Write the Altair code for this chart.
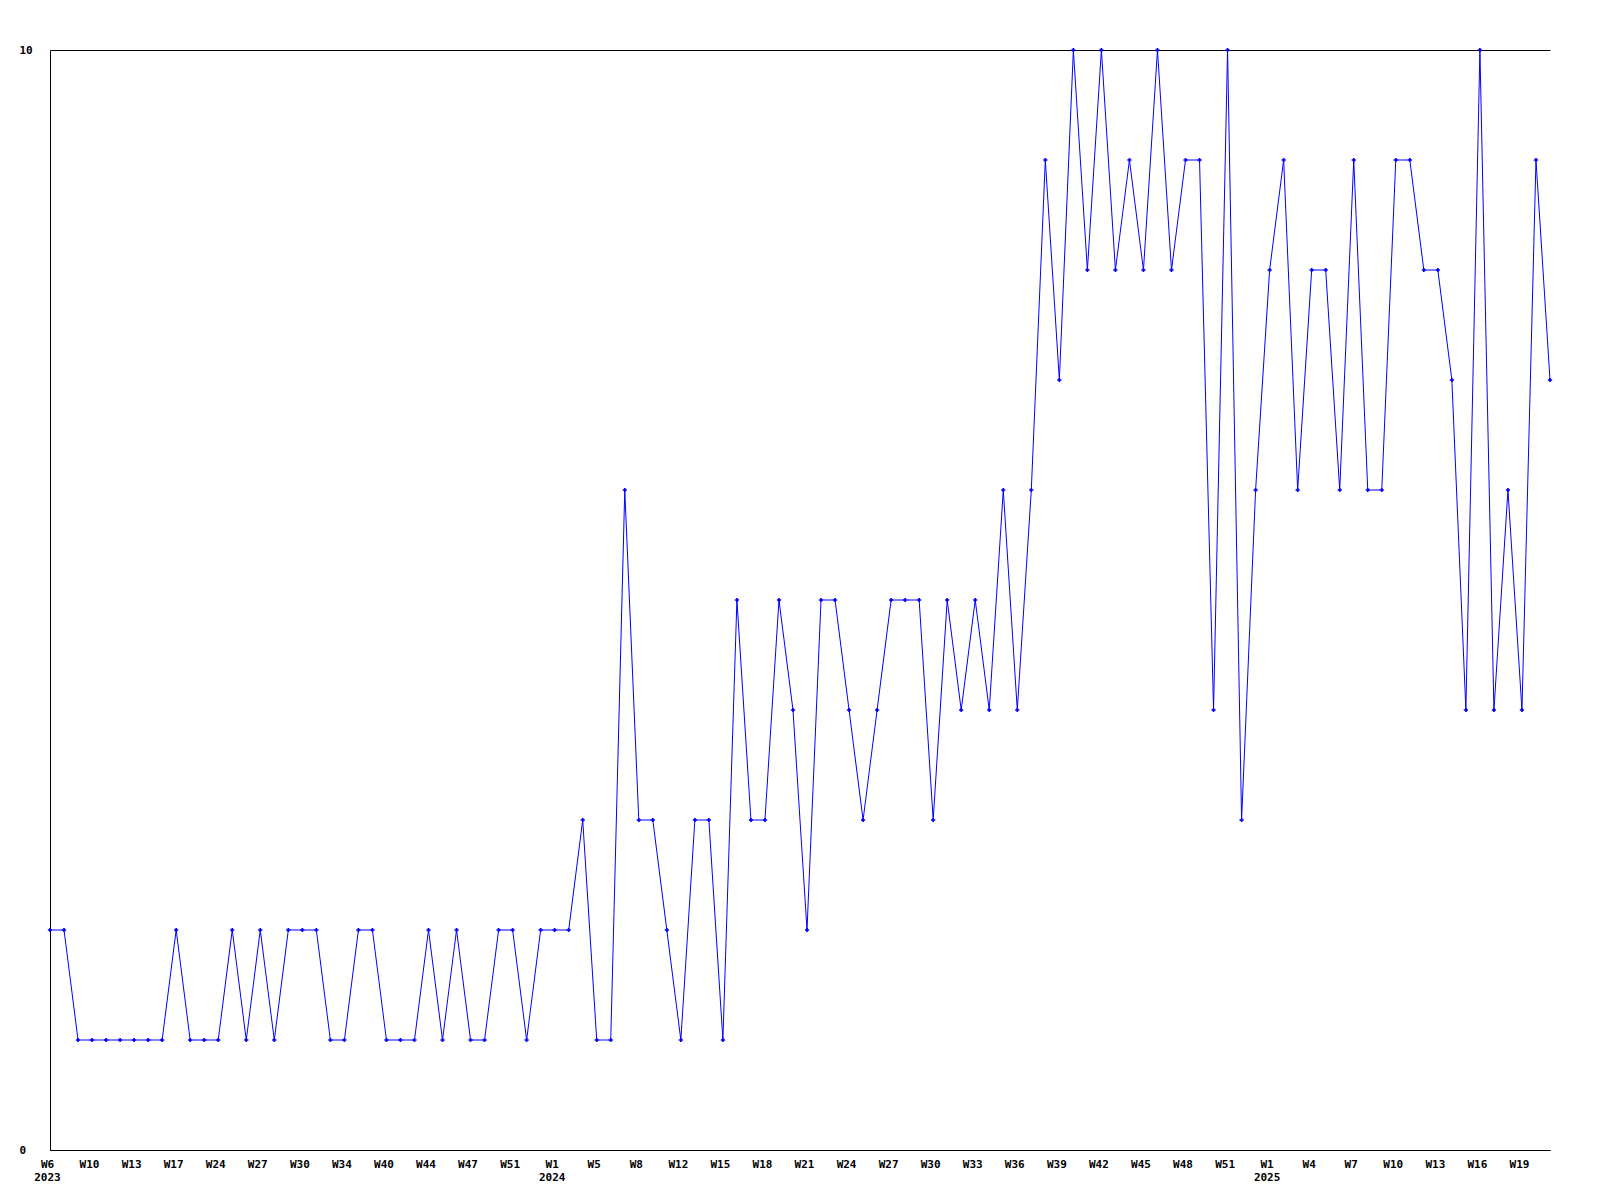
import json
import altair as alt
import pandas as pd

# values per point (108 weekly samples, 2023 W6 .. 2025 W21)
values = [2, 2, 1, 1, 1, 1, 1, 1, 1, 2, 1, 1, 1, 2, 1, 2, 1, 2, 2, 2,
          1, 1, 2, 2, 1, 1, 1, 2, 1, 2, 1, 1, 2, 2, 1, 2, 2, 2, 3,
          1, 1, 6, 3, 3, 2, 1, 3, 3, 1,
          5, 3, 3, 5, 4, 2, 5, 5, 4, 3,
          4, 5, 5, 5, 3, 5, 4, 5, 4, 6,
          4, 6, 9, 7, 10, 8, 10, 8, 9, 8,
          10, 8, 9, 9, 4, 10, 3, 6, 8, 9,
          6, 8, 8, 6, 9, 6, 6, 9, 9, 8,
          8, 7, 4, 10, 4, 6, 4, 9, 7]

# tick labels, one for every third point
tick_weeks = ["W6", "W10", "W13", "W17", "W24", "W27", "W30", "W34", "W40",
              "W44", "W47", "W51", "W1", "W5", "W8", "W12", "W15", "W18",
              "W21", "W24", "W27", "W30", "W33", "W36", "W39", "W42", "W45",
              "W48", "W51", "W1", "W4", "W7", "W10", "W13", "W16", "W19"]
tick_years = {0: "2023", 12: "2024", 29: "2025"}

tick_labels = [w + ("|" + tick_years[i] if i in tick_years else "")
               for i, w in enumerate(tick_weeks)]
tick_values = [i * 3 for i in range(len(tick_weeks))]

df = pd.DataFrame({"idx": list(range(len(values))), "value": values})

FONT = "DejaVu Sans Mono"

label_expr = "split(" + json.dumps(tick_labels) + "[round(datum.value/3)], '|')"

chart = alt.Chart(df).mark_line(
    color="#0000ff", strokeWidth=1,
    point=alt.OverlayMarkDef(shape="cross", size=18, filled=True, color="#0000ff"),
).encode(
    x=alt.X("idx:Q",
            scale=alt.Scale(domain=[0, len(values) - 1], nice=False, zero=False),
            axis=alt.Axis(title=None, values=tick_values, labelExpr=label_expr,
                          grid=False, ticks=False, tickSize=0, labelPadding=8,
                          labelFlush=False, labelOverlap=False, labelOffset=-3,
                          labelLineHeight=13, labelFont=FONT, labelFontSize=11,
                          labelFontWeight="bold", labelColor="#000000",
                          domainColor="#000000", domainWidth=1)),
    y=alt.Y("value:Q",
            scale=alt.Scale(domain=[0, 10], nice=False),
            axis=alt.Axis(title=None, values=[0, 10], format="d",
                          grid=True, gridColor="#000000", gridOpacity=1, gridWidth=1,
                          ticks=False, tickSize=0, labelPadding=31, labelAlign="left",
                          labelFont=FONT, labelFontSize=11, labelFontWeight="bold",
                          labelColor="#000000", domainColor="#000000", domainWidth=1)),
).properties(
    width=1500, height=1100,
    autosize=alt.AutoSizeParams(type="none"),
    padding={"left": 42, "top": 42, "right": 40, "bottom": 40},
    background="#ffffff",
).configure_view(stroke=None)

chart.save("out.html", embed_options={"renderer": "svg", "actions": False})
